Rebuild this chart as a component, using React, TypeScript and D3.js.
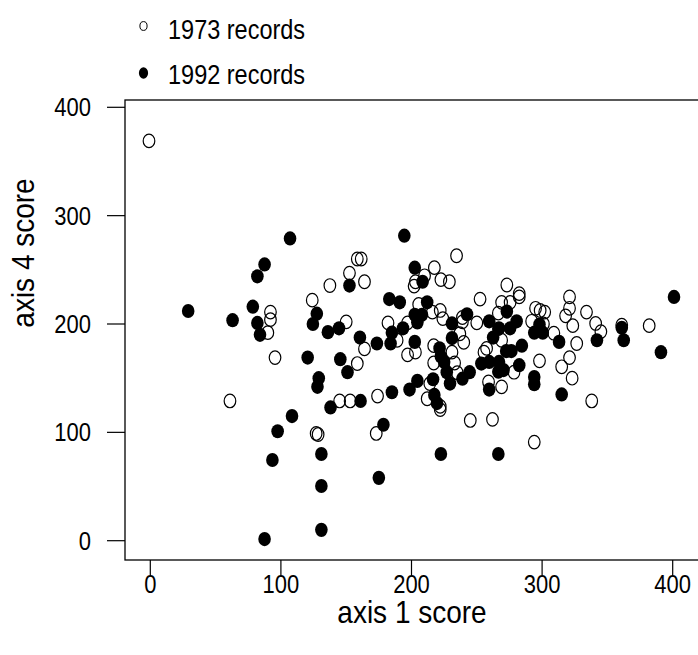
import React from 'react';
import * as d3 from 'd3';

// axis tick values
const xTicks = [0, 100, 200, 300, 400];
const yTicks = [0, 100, 200, 300, 400];

const legendLabels = ['1973 records', '1992 records'];

// [axis 1 score, axis 4 score]
const records1973: [number, number][] = [
  [-1, 369], [124, 222], [92, 211], [92, 204], [90, 192], [95.5, 169], [61, 129],
  [127, 99], [128.5, 98], [173, 99], [245, 111], [262, 112], [145, 129], [153, 129],
  [174, 133.5], [214, 145], [212, 131], [222, 121], [222, 124], [259, 146.5],
  [158.5, 163.5], [150, 202], [164, 177], [189, 185], [182, 201], [197, 171.5],
  [203, 174], [217, 180], [217, 164], [231, 174], [233, 164], [235, 155], [237, 191],
  [240, 183], [239, 202], [250, 201], [255.5, 174], [257.5, 177.5], [338, 129],
  [294, 91], [323, 150], [315, 160.5], [321, 169], [298, 166], [269, 142],
  [326.5, 182], [309, 191.5], [345, 193], [341, 200.5], [361, 199], [382, 198.5],
  [323.5, 198.5], [278.5, 155.5], [269, 185], [292, 202.5], [301, 200], [273, 236],
  [282.5, 228], [282.5, 225], [269, 220], [275.5, 220], [266.5, 210], [295, 214.5],
  [298.5, 212.5], [302, 211], [321, 225], [321, 214.5], [318, 207.5], [334, 211],
  [158.5, 260], [161.5, 260], [152.5, 247], [137.5, 235.5], [164, 239], [217.5, 252],
  [210, 244.5], [203, 239], [222.5, 241], [229, 239], [202, 235], [234.5, 263],
  [205.5, 218], [216, 211], [222, 212.5], [224, 205], [239, 206], [252.5, 223],
  [197, 201],
];

const records1992: [number, number][] = [
  [107, 279], [87.5, 255], [82, 244], [29, 212], [78.5, 216], [63, 203.5], [82, 201],
  [127.5, 209.5], [124.5, 200], [84, 190], [120.5, 169], [129, 150], [128, 142],
  [108.5, 115], [97.5, 101], [131, 80], [93.5, 74.5], [131, 50.5], [131, 10],
  [87.5, 1.5], [178.5, 107], [175, 58], [222.5, 80], [266.5, 80], [138, 123],
  [161, 129], [185, 137], [198.5, 139.5], [204.5, 147.5], [216.5, 149], [217.5, 134.5],
  [219.5, 127], [229.5, 145], [239, 149.5], [244.5, 155.5], [259.5, 139.5],
  [151, 155.5], [145.5, 167.5], [136, 192.5], [144.5, 196], [160.5, 187.5],
  [173.5, 182], [184, 182], [185, 192], [193.5, 196], [202.5, 183.5], [204.5, 201.5],
  [221.5, 177.5], [222.5, 170], [225, 165], [227, 155.5], [231, 187], [231, 200.5],
  [253.5, 163.5], [259.5, 165], [262.5, 187.5], [259.5, 202.5], [266.5, 156],
  [266.5, 195.5], [391, 174], [315, 135], [294, 151], [294, 144.5], [313, 183.5],
  [342, 185], [362.5, 185], [361, 196.5], [284.5, 180], [282.5, 162], [270.5, 157.5],
  [267, 165], [272.5, 175], [276.5, 175], [267, 196], [275.5, 196], [280.5, 202.5],
  [298, 199.5], [294, 192], [300.5, 192], [401, 225], [273, 211.5], [194.5, 281.5],
  [152.5, 235.5], [202.5, 252], [208.5, 239], [183, 223], [191, 220], [212, 220],
  [202.5, 208.5], [208, 208.5], [242.5, 209],
];

const W = 698;
const H = 655;
const frame = {left: 125, top: 100, right: 702, bottom: 560};
const font = 'Liberation Sans, Arial, sans-serif';
const stretch = 1.15; // the picture is a little taller than wide

const App = () => {
  const x = d3.scaleLinear().domain([0, 400]).range([150.3, 672.7]);
  const y = d3.scaleLinear().domain([0, 400]).range([540.7, 107.3]);

  const rx = 5.8;
  const ry = 6.8;

  const label = (tx: number, ty: number, text: string, size: number, anchor: string, rotate = 0) => (
    <text
      key={text + tx + ty}
      transform={`translate(${tx},${ty}) rotate(${rotate}) scale(1,${stretch})`}
      fontSize={size}
      fontFamily={font}
      textAnchor={anchor}
      dy="0.36em"
      fill="#000"
    >
      {text}
    </text>
  );

  return (
    <svg width={W} height={H} style={{position: 'absolute', left: 0, top: 0, background: '#fff'}}>
      <rect x={0} y={0} width={W} height={H} fill="#fff" />

      {/* legend */}
      <ellipse cx={143.5} cy={26} rx={3.6} ry={4.4} fill="none" stroke="#000" strokeWidth={1} />
      {label(168, 29, legendLabels[0], 23.5, 'start')}
      <ellipse cx={143.5} cy={73} rx={4.6} ry={5.8} fill="#000" />
      {label(168, 74, legendLabels[1], 23.5, 'start')}

      {/* frame */}
      <rect
        x={frame.left}
        y={frame.top}
        width={frame.right - frame.left}
        height={frame.bottom - frame.top}
        fill="none"
        stroke="#000"
        strokeWidth={1.3}
      />

      {/* y axis */}
      {yTicks.map(t => (
        <g key={'y' + t}>
          <line x1={107} x2={frame.left} y1={y(t)} y2={y(t)} stroke="#000" strokeWidth={1.2} />
          {label(91, y(t), String(t), 22, 'end')}
        </g>
      ))}

      {/* x axis */}
      {xTicks.map(t => (
        <g key={'x' + t}>
          <line x1={x(t)} x2={x(t)} y1={frame.bottom} y2={frame.bottom + 15} stroke="#000" strokeWidth={1.2} />
          {label(x(t), 584, String(t), 22, 'middle')}
        </g>
      ))}

      {label(412, 611, 'axis 1 score', 28, 'middle')}
      {label(22, 253, 'axis 4 score', 28, 'middle', -90)}

      {/* points */}
      {records1973.map((d, i) => (
        <ellipse key={'o' + i} cx={x(d[0])} cy={y(d[1])} rx={rx} ry={ry} fill="none" stroke="#000" strokeWidth={1.2} />
      ))}
      {records1992.map((d, i) => (
        <ellipse key={'f' + i} cx={x(d[0])} cy={y(d[1])} rx={rx + 0.5} ry={ry + 0.3} fill="#000" />
      ))}
    </svg>
  );
};

export default App;
